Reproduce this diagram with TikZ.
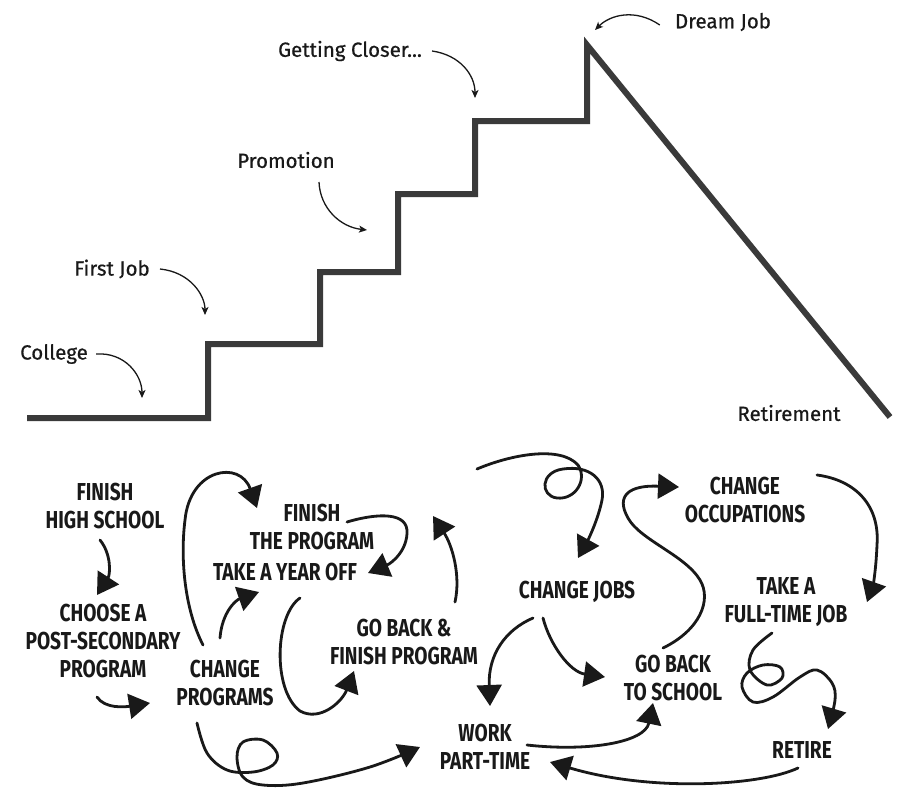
\documentclass[tikz,border=0pt]{standalone}
\usepackage{fontspec}
\setmainfont{Fira Sans}
\newfontfamily\toplbl{Fira Sans}[FakeBold=0.6]
\newfontfamily\hand{Fira Sans}[FakeStretch=0.78]
\usetikzlibrary{arrows.meta}
\definecolor{ink}{RGB}{25,25,25}
\definecolor{stair}{RGB}{58,58,58}
\begin{document}
\begin{tikzpicture}[x=1pt,y=-1pt,
  lbl/.style={font=\toplbl\fontsize{20.5}{24}\selectfont, text=ink, inner sep=0pt},
  hw/.style={font=\hand\bfseries\fontsize{24.5}{28}\selectfont, text=ink, align=center, inner sep=0pt},
  thin/.style={draw=ink, line width=1.3pt, -{Stealth[length=8pt,width=7pt,inset=2pt]}},
  sketch/.style={draw=ink, line width=2.8pt, line cap=round, line join=round, -{Triangle[length=21pt,width=25pt]}}]
\useasboundingbox (0,0) rectangle (901,787);
\fill[white] (0,0) rectangle (901,787);

% staircase
\draw[stair, line width=6pt, line join=miter] (27,418) -- (208,418) -- (208,344) -- (320,344) -- (320,272) -- (398,272) -- (398,194) -- (475,194) -- (475,121) -- (587,121) -- (587,45) -- (890,417);

% top labels
\node[lbl] (college) at (54,354) {College};
\node[lbl] (firstjob) at (112,269) {First Job};
\node[lbl] (promo) at (286,160) {Promotion};
\node[lbl] (closer) at (350,51) {Getting Closer...};
\node[lbl] (dream) at (723,22) {Dream Job};
\node[lbl] (retirement) at (789,413) {Retirement};

\coordinate (c1) at (142,398);
\coordinate (c2) at (205,315);
\coordinate (c3) at (367,230);
\coordinate (c4) at (475,98);
\coordinate (c5) at (595,30);
\draw[thin] ([xshift=8pt]college.east) .. controls (125,352) and (142,375) .. (c1);
\draw[thin] ([xshift=10pt]firstjob.east) .. controls (190,272) and (205,295) .. (c2);
\draw[thin] (319,182) .. controls (320,208) and (340,227) .. (c3);
\draw[thin] ([xshift=10pt]closer.east) .. controls (460,55) and (475,75) .. (c4);
\draw[thin] ([xshift=-15pt,yshift=-3pt]dream.west) .. controls (635,8) and (610,15) .. (c5);

% bottom hand-drawn labels
\node[hw] (fhs) at (105,506) {FINISH\\HIGH SCHOOL};
\node[hw] (choose) at (103,641) {CHOOSE A\\POST-SECONDARY\\PROGRAM};
\node[hw] (chprog) at (225,683) {CHANGE\\PROGRAMS};
\node[hw] (finprog) at (312,527) {FINISH\\THE PROGRAM};
\node[hw] (yearoff) at (285,572) {TAKE A YEAR OFF};
\node[hw] (goback) at (404,642) {GO BACK \&\\FINISH PROGRAM};
\node[hw] (chjobs) at (577,592) {CHANGE JOBS};
\node[hw] (chocc) at (745,500) {CHANGE\\OCCUPATIONS};
\node[hw] (fulltime) at (786,602) {TAKE A\\FULL-TIME JOB};
\node[hw] (goschool) at (673,678) {GO BACK\\TO SCHOOL};
\node[hw] (work) at (485,747) {WORK\\PART-TIME};
\node[hw] (retire) at (802,750) {RETIRE};

% connector end points
\coordinate (s1) at (100,540);  \coordinate (e1) at (97,595);
\coordinate (s2) at (97,697);   \coordinate (e2) at (150,703);
\coordinate (s3) at (203,645);  \coordinate (e3) at (257,508);
\coordinate (s4) at (220,638);  \coordinate (e4) at (259,592);
\coordinate (s5) at (300,598);  \coordinate (e5) at (354,671);
\coordinate (s6) at (347,522);  \coordinate (e6) at (368,573);
\coordinate (s7) at (455,602);  \coordinate (e7) at (433,516);
\coordinate (s8) at (477,469);  \coordinate (e8) at (578,558);
\coordinate (s9) at (533,618);  \coordinate (e9) at (490,706);
\coordinate (s10) at (543,618); \coordinate (e10) at (605,677);
\coordinate (s11) at (663,648); \coordinate (e11) at (679,487);
\coordinate (s12) at (817,475); \coordinate (e12) at (867,602);
\coordinate (s13) at (772,633); \coordinate (e13) at (828,729);
\coordinate (s14) at (798,768); \coordinate (e14) at (550,762);
\coordinate (s15) at (527,745); \coordinate (e15) at (653,703);
\coordinate (s16) at (197,723); \coordinate (e16) at (420,747);

\draw[sketch] (s1) .. controls (112,555) and (110,575) .. (e1);
\draw[sketch] (s2) .. controls (105,709) and (125,707) .. (e2);
\draw[sketch] (s3) .. controls (185,610) and (180,560) .. (185,520) .. controls (190,468) and (240,460) .. (e3);
\draw[sketch] (s4) .. controls (222,612) and (236,600) .. (e4);
\draw[sketch] (s5) .. controls (275,615) and (272,690) .. (300,711) .. controls (320,722) and (342,702) .. (e5);
\draw[sketch] (s6) .. controls (370,515) and (405,510) .. (407,530) .. controls (408,550) and (392,563) .. (e6);
\draw[sketch] (s7) .. controls (461,575) and (452,545) .. (e7);
\draw[sketch] (s8) .. controls (510,455) and (560,445) .. (578,465) .. controls (588,480) and (575,500) .. (557,498) .. controls (540,496) and (540,472) .. (563,469) .. controls (590,465) and (606,480) .. (602,500) .. controls (598,520) and (588,540) .. (e8);
\draw[sketch] (s9) .. controls (505,630) and (488,655) .. (e9);
\draw[sketch] (s10) .. controls (550,645) and (570,672) .. (e10);
\draw[sketch] (s11) .. controls (700,630) and (712,600) .. (700,580) .. controls (685,555) and (640,540) .. (628,518) .. controls (615,495) and (630,485) .. (e11);
\draw[sketch] (s12) .. controls (855,480) and (880,505) .. (877,545) .. controls (876,570) and (873,585) .. (e12);
\draw[sketch] plot[smooth, tension=0.6] coordinates {(s13) (753,650) (750,670) (767,685) (782,678) (780,667) (763,665) (747,673) (742,687) (753,702) (773,697) (800,677) (817,670) (832,683) (835,700) (e13)};
\draw[sketch] (s14) .. controls (760,786) and (650,792) .. (e14);
\draw[sketch] (s15) .. controls (590,752) and (645,742) .. (e15);
\draw[sketch] plot[smooth, tension=0.6] coordinates {(s16) (207,753) (227,770) (253,772) (273,765) (277,753) (263,740) (243,742) (237,757) (243,777) (263,785) (303,783) (370,767) (e16)};
\end{tikzpicture}
\end{document}
